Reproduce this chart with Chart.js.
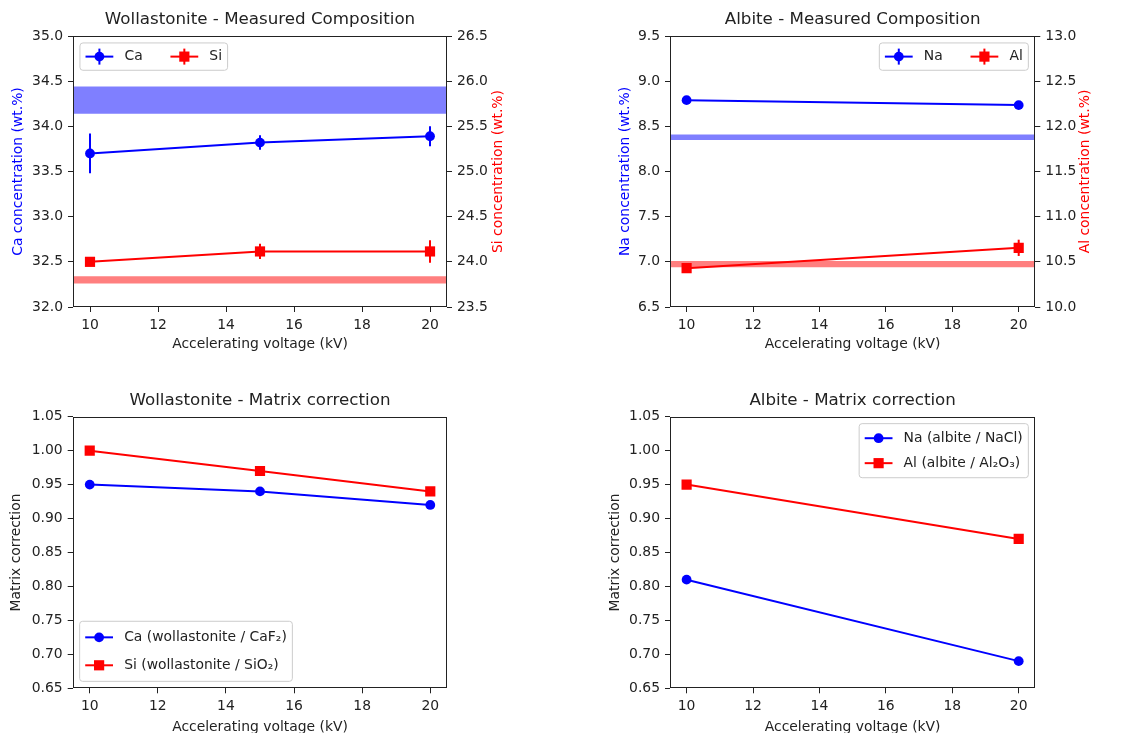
<!DOCTYPE html>
<html>
<head>
<meta charset="utf-8">
<script src="https://cdn.jsdelivr.net/npm/chart.js@4.4.1/dist/chart.umd.min.js"></script>
<style>
  body { margin: 0; background: #fff; }
  #wrap { position: relative; width: 1144px; height: 733px; overflow: hidden; }
  #wrap canvas { position: absolute; left: 0; top: 0; }
</style>
</head>
<body>
<div id="wrap">
  <canvas id="woComp" width="1144" height="733"></canvas>
  <canvas id="abComp" width="1144" height="733"></canvas>
  <canvas id="woMatrix" width="1144" height="733"></canvas>
  <canvas id="abMatrix" width="1144" height="733"></canvas>
</div>
<script>
'use strict';

// --- data ---
const voltWo = [10, 15, 20];
const voltAb = [10, 20];

const caConc = [33.70, 33.82, 33.89];
const caErr = [0.22, 0.08, 0.11];
const siConc = [24.00, 24.115, 24.115];
const siErr = [0.01, 0.085, 0.125];
const caBand = [34.14, 34.44];
const siBand = [23.76, 23.84];

const naConc = [8.79, 8.735];
const naErr = [0.01, 0.01];
const alConc = [10.43, 10.655];
const alErr = [0.01, 0.09];
const naBand = [8.35, 8.41];
const alBand = [10.44, 10.51];

const caMatrix = [0.95, 0.94, 0.92];
const siMatrix = [1.00, 0.97, 0.94];
const naMatrix = [0.81, 0.69];
const alMatrix = [0.95, 0.87];

const xRange = [9.5, 20.5];
const xTicks = [10, 12, 14, 16, 18, 20];
const caTicks = [32.0, 32.5, 33.0, 33.5, 34.0, 34.5, 35.0];
const siTicks = [23.5, 24.0, 24.5, 25.0, 25.5, 26.0, 26.5];
const naTicks = [6.5, 7.0, 7.5, 8.0, 8.5, 9.0, 9.5];
const alTicks = [10.0, 10.5, 11.0, 11.5, 12.0, 12.5, 13.0];
const matrixTicks = [0.65, 0.70, 0.75, 0.80, 0.85, 0.90, 0.95, 1.00, 1.05];

const BLUE = '#0000ff';
const RED = '#ff0000';
const INK = '#222';
const FS = 13.9;
const LW = 2;

Chart.defaults.font.family = "'DejaVu Sans', sans-serif";
Chart.defaults.font.size = FS;
Chart.defaults.color = INK;

// vertical error bars
const errorBars = {
  id: 'errorBars',
  afterDatasetsDraw(chart) {
    const ctx = chart.ctx;
    chart.data.datasets.forEach((ds, i) => {
      if (!ds.yErr) return;
      const meta = chart.getDatasetMeta(i);
      const ys = chart.scales[meta.yAxisID];
      ctx.save();
      ctx.strokeStyle = ds.borderColor;
      ctx.lineWidth = LW;
      meta.data.forEach((pt, j) => {
        const v = ds.data[j].y, e = ds.yErr[j];
        ctx.beginPath();
        ctx.moveTo(pt.x, ys.getPixelForValue(v + e));
        ctx.lineTo(pt.x, ys.getPixelForValue(v - e));
        ctx.stroke();
      });
      ctx.restore();
    });
  }
};

// axes box
const frame = {
  id: 'frame',
  afterDatasetsDraw(chart) {
    const {ctx, chartArea: ca} = chart;
    ctx.save();
    ctx.strokeStyle = INK;
    ctx.lineWidth = 1;
    const l = Math.round(ca.left) + 0.5, t = Math.round(ca.top) + 0.5;
    const r = Math.round(ca.right) - 0.5, b = Math.round(ca.bottom) - 0.5;
    ctx.strokeRect(l, t, r - l, b - t);
    ctx.restore();
  }
};

// rotated label for the right-hand axis (reads bottom to top)
const rightTitle = {
  id: 'rightTitle',
  afterDraw(chart, args, opts) {
    if (!opts || !opts.text) return;
    const {ctx, chartArea: ca} = chart;
    ctx.save();
    ctx.translate(ca.right + opts.offset, (ca.top + ca.bottom) / 2);
    ctx.rotate(-Math.PI / 2);
    ctx.font = FS + "px 'DejaVu Sans'";
    ctx.fillStyle = opts.color;
    ctx.textAlign = 'center';
    ctx.textBaseline = 'middle';
    ctx.fillText(opts.text, 0, 0);
    ctx.restore();
  }
};

function drawMarker(ctx, style, r, x, y) {
  ctx.beginPath();
  if (style === 'rect') {
    const s = r * Math.SQRT1_2;
    ctx.rect(x - s, y - s, 2 * s, 2 * s);
  } else {
    ctx.arc(x, y, r, 0, Math.PI * 2);
  }
  ctx.fill();
}

// matplotlib-like legend box
const mplLegend = {
  id: 'mplLegend',
  afterDraw(chart, args, opts) {
    if (!opts || !opts.loc) return;
    const {ctx, chartArea: ca} = chart;
    const pad = 0.4 * FS, hLen = 2 * FS, hPad = 0.8 * FS, colSp = 2 * FS, rowSp = 0.5 * FS, axPad = 0.5 * FS;
    const items = chart.data.datasets.filter(d => !d.isBand);
    const ncol = opts.ncol || 1;
    const nrow = Math.ceil(items.length / ncol);
    ctx.save();
    ctx.font = FS + "px 'DejaVu Sans'";
    const cols = [];
    for (let c = 0; c < ncol; c++) cols.push(items.slice(c * nrow, (c + 1) * nrow));
    const colW = cols.map(col => hLen + hPad + Math.max(...col.map(d => ctx.measureText(d.label).width)));
    const w = 2 * pad + colW.reduce((a, b) => a + b, 0) + (ncol - 1) * colSp;
    const h = 2 * pad + nrow * opts.rowH + (nrow - 1) * rowSp;
    const x0 = opts.loc.includes('left') ? ca.left + axPad : ca.right - axPad - w;
    const y0 = opts.loc.includes('upper') ? ca.top + axPad : ca.bottom - axPad - h;

    const rad = 3;
    ctx.beginPath();
    ctx.moveTo(x0 + rad, y0);
    ctx.arcTo(x0 + w, y0, x0 + w, y0 + h, rad);
    ctx.arcTo(x0 + w, y0 + h, x0, y0 + h, rad);
    ctx.arcTo(x0, y0 + h, x0, y0, rad);
    ctx.arcTo(x0, y0, x0 + w, y0, rad);
    ctx.closePath();
    ctx.fillStyle = 'rgba(255,255,255,0.8)';
    ctx.fill();
    ctx.strokeStyle = '#cccccc';
    ctx.lineWidth = 1;
    ctx.stroke();

    let cx = x0 + pad;
    cols.forEach((col, c) => {
      col.forEach((d, r) => {
        const cy = y0 + pad + r * (opts.rowH + rowSp) + opts.rowH / 2;
        ctx.strokeStyle = d.borderColor;
        ctx.fillStyle = d.borderColor;
        ctx.lineWidth = LW;
        ctx.beginPath();
        ctx.moveTo(cx, cy);
        ctx.lineTo(cx + hLen, cy);
        ctx.stroke();
        if (d.yErr) {
          ctx.beginPath();
          ctx.moveTo(cx + hLen / 2, cy - 8);
          ctx.lineTo(cx + hLen / 2, cy + 8);
          ctx.stroke();
        }
        drawMarker(ctx, d.pointStyle, d.pointRadius, cx + hLen / 2, cy);
        ctx.fillStyle = INK;
        ctx.textAlign = 'left';
        ctx.textBaseline = 'middle';
        ctx.fillText(d.label, cx + hLen + hPad, cy);
      });
      cx += colW[c] + colSp;
    });
    ctx.restore();
  }
};

function series(label, xs, ys, color, style, err, axis) {
  return {
    label: label,
    data: xs.map((x, i) => ({x: x, y: ys[i]})),
    yErr: err,
    yAxisID: axis || 'y',
    borderColor: color,
    backgroundColor: color,
    borderWidth: LW,
    pointStyle: style,
    pointRadius: style === 'rect' ? 7.2 : 4.9,
    pointBorderWidth: 0,
    pointBackgroundColor: color,
    tension: 0
  };
}

function band(range, color, axis) {
  return {
    label: '',
    isBand: true,
    data: [{x: xRange[0], y: range[1]}, {x: xRange[1], y: range[1]}],
    yAxisID: axis || 'y',
    borderColor: 'transparent',
    borderWidth: 0,
    pointRadius: 0,
    backgroundColor: color,
    fill: {value: range[0]}
  };
}

function yAxis(ticks, digits, width, position, title, color) {
  return {
    type: 'linear',
    position: position,
    min: ticks[0],
    max: ticks[ticks.length - 1],
    afterBuildTicks: s => { s.ticks = ticks.map(v => ({value: v})); },
    afterFit: s => { s.width = width; },
    grid: {drawOnChartArea: false, tickLength: 5, color: INK, tickColor: INK},
    border: {display: false},
    ticks: {padding: 5, color: INK, callback: v => v.toFixed(digits)},
    title: title ? {display: true, text: title, color: color, padding: 0, font: {size: FS}} : {display: false}
  };
}

function makeChart(id, o) {
  const scales = {
    x: {
      type: 'linear',
      min: xRange[0],
      max: xRange[1],
      afterBuildTicks: s => { s.ticks = xTicks.map(v => ({value: v})); },
      afterFit: s => { s.height = o.xHeight; },
      grid: {drawOnChartArea: false, tickLength: 5, color: INK, tickColor: INK},
      border: {display: false},
      ticks: {padding: 5, color: INK, maxRotation: 0},
      title: {display: true, text: 'Accelerating voltage (kV)', color: INK, padding: 0, font: {size: FS}}
    },
    y: o.left
  };
  if (o.right) scales.y1 = o.right;
  return new Chart(document.getElementById(id), {
    type: 'line',
    data: {datasets: o.datasets},
    options: {
      responsive: false,
      animation: false,
      devicePixelRatio: 1,
      layout: {padding: o.pad},
      scales: scales,
      plugins: {
        legend: {display: false},
        tooltip: {enabled: false},
        title: {
          display: true,
          text: o.title,
          fullSize: false,
          color: INK,
          font: {size: 16.7, weight: 'normal', lineHeight: 1.2},
          padding: {top: 0, bottom: 6}
        },
        mplLegend: o.legend,
        rightTitle: o.rightTitle || {}
      }
    },
    plugins: [errorBars, frame, rightTitle, mplLegend]
  });
}

makeChart('woComp', {
  title: 'Wollastonite - Measured Composition',
  pad: {left: 9.6, right: 637, top: 9.96, bottom: 380},
  xHeight: 46,
  datasets: [
    series('Ca', voltWo, caConc, BLUE, 'circle', caErr, 'y'),
    series('Si', voltWo, siConc, RED, 'rect', siErr, 'y1'),
    band(caBand, 'rgba(0,0,255,0.5)', 'y'),
    band(siBand, 'rgba(255,0,0,0.5)', 'y1')
  ],
  left: yAxis(caTicks, 1, 63.4, 'left', 'Ca concentration (wt.%)', BLUE),
  right: yAxis(siTicks, 1, 60, 'right', null),
  rightTitle: {text: 'Si concentration (wt.%)', color: RED, offset: 51},
  legend: {loc: 'upper left', ncol: 2, rowH: 16.2}
});

makeChart('abComp', {
  title: 'Albite - Measured Composition',
  pad: {left: 616.6, right: 48.7, top: 9.96, bottom: 380},
  xHeight: 46,
  datasets: [
    series('Na', voltAb, naConc, BLUE, 'circle', naErr, 'y'),
    series('Al', voltAb, alConc, RED, 'rect', alErr, 'y1'),
    band(naBand, 'rgba(0,0,255,0.5)', 'y'),
    band(alBand, 'rgba(255,0,0,0.5)', 'y1')
  ],
  left: yAxis(naTicks, 1, 53.4, 'left', 'Na concentration (wt.%)', BLUE),
  right: yAxis(alTicks, 1, 60, 'right', null),
  rightTitle: {text: 'Al concentration (wt.%)', color: RED, offset: 50},
  legend: {loc: 'upper right', ncol: 2, rowH: 16.2}
});

makeChart('woMatrix', {
  title: 'Wollastonite - Matrix correction',
  pad: {left: 8.3, right: 696.7, top: 390.66, bottom: -2.6},
  xHeight: 47.3,
  datasets: [
    series('Ca (wollastonite / CaF\u2082)', voltWo, caMatrix, BLUE, 'circle', null, 'y'),
    series('Si (wollastonite / SiO\u2082)', voltWo, siMatrix, RED, 'rect', null, 'y')
  ],
  left: yAxis(matrixTicks, 2, 64.4, 'left', 'Matrix correction', INK),
  legend: {loc: 'lower left', ncol: 1, rowH: 21}
});

makeChart('abMatrix', {
  title: 'Albite - Matrix correction',
  pad: {left: 606.6, right: 108.7, top: 390.66, bottom: -2.6},
  xHeight: 47.3,
  datasets: [
    series('Na (albite / NaCl)', voltAb, naMatrix, BLUE, 'circle', null, 'y'),
    series('Al (albite / Al\u2082O\u2083)', voltAb, alMatrix, RED, 'rect', null, 'y')
  ],
  left: yAxis(matrixTicks, 2, 63.4, 'left', 'Matrix correction', INK),
  legend: {loc: 'upper right', ncol: 1, rowH: 18}
});
</script>
</body>
</html>
